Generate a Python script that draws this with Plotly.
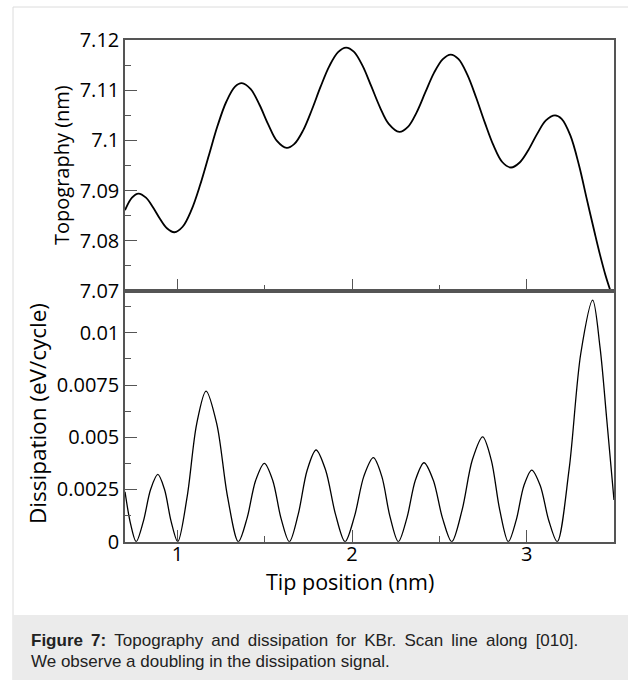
import plotly.graph_objects as go

# ---- data ----
topo_x = [0.700, 0.740, 0.777, 0.820, 0.860, 0.900, 0.940, 0.983,
          1.030, 1.080, 1.130, 1.180, 1.230, 1.280, 1.330, 1.369,
          1.420, 1.470, 1.520, 1.570, 1.626,
          1.670, 1.720, 1.770, 1.820, 1.870, 1.920, 1.966,
          2.010, 2.060, 2.110, 2.160, 2.210, 2.271,
          2.320, 2.370, 2.420, 2.470, 2.520, 2.565,
          2.610, 2.660, 2.710, 2.760, 2.810, 2.860, 2.910,
          2.960, 3.010, 3.060, 3.110, 3.162,
          3.200, 3.250, 3.300, 3.343, 3.390, 3.420, 3.450, 3.480, 3.500]
topo_y = [7.0861, 7.0886, 7.0894, 7.0886, 7.0867, 7.0844, 7.0825, 7.0817,
          7.0828, 7.0861, 7.0911, 7.0970, 7.1029, 7.1077, 7.1107, 7.1114,
          7.1102, 7.1071, 7.1032, 7.0999, 7.0985,
          7.0993, 7.1020, 7.1061, 7.1107, 7.1148, 7.1176, 7.1185,
          7.1177, 7.1149, 7.1108, 7.1066, 7.1033, 7.1017,
          7.1027, 7.1056, 7.1096, 7.1135, 7.1162, 7.1171,
          7.1162, 7.1131, 7.1086, 7.1036, 7.0990, 7.0957, 7.0946,
          7.0956, 7.0981, 7.1013, 7.1040, 7.1050,
          7.1043, 7.1010, 7.0950, 7.0885, 7.0815, 7.0772, 7.0733, 7.0700, 7.0680]

diss_x = [0.700, 0.732, 0.764,
          0.805, 0.847, 0.888, 0.926, 0.964, 1.002,
          1.056, 1.110, 1.164, 1.226, 1.287, 1.349,
          1.399, 1.448, 1.498, 1.546, 1.593, 1.641,
          1.692, 1.743, 1.794, 1.849, 1.905, 1.960,
          2.014, 2.068, 2.122, 2.170, 2.217, 2.265,
          2.314, 2.363, 2.412, 2.465, 2.518, 2.571,
          2.630, 2.689, 2.748, 2.797, 2.846, 2.895,
          2.940, 2.984, 3.029, 3.078, 3.126, 3.175,
          3.243, 3.310, 3.378, 3.420, 3.458, 3.500]
diss_y = [0.00239, 0.00085, 0.0,
          0.00097, 0.00251, 0.00322, 0.00251, 0.00097, 0.0,
          0.00216, 0.00562, 0.00721, 0.00562, 0.00216, 0.0,
          0.00113, 0.00293, 0.00375, 0.00293, 0.00113, 0.0,
          0.00132, 0.00342, 0.00439, 0.00342, 0.00132, 0.0,
          0.00121, 0.00314, 0.00402, 0.00314, 0.00121, 0.0,
          0.00113, 0.00295, 0.00378, 0.00295, 0.00113, 0.0,
          0.00151, 0.00392, 0.00502, 0.00392, 0.00151, 0.0,
          0.00103, 0.00268, 0.00343, 0.00268, 0.00103, 0.0,
          0.00347, 0.00902, 0.01156, 0.00930, 0.00590, 0.00200]

x_ticks = [1, 2, 3]
x_minor = [1.5, 2.5]
topo_ticks = [7.07, 7.08, 7.09, 7.10, 7.11, 7.12]
topo_labels = ["7.07", "7.08", "7.09", "7.1", "7.11", "7.12"]
topo_minor = [7.075, 7.085, 7.095, 7.105, 7.115]
diss_ticks = [0, 0.0025, 0.005, 0.0075, 0.01]
diss_labels = ["0", "0.0025", "0.005", "0.0075", "0.01"]
diss_minor = [0.00125, 0.00375, 0.00625, 0.00875, 0.01125]

caption1_words = ["<b>Figure", "7:</b>", "Topography", "and", "dissipation", "for",
                  "KBr.", "Scan", "line", "along", "[010]."]
caption2 = "We observe a doubling in the dissipation signal."

# ---- layout ----
W, H = 628, 680
def fx(p): return p / W
def fy(p): return 1 - p / H

LEFT, RIGHT, TOP, MID, BOT = 125, 614, 40, 291, 541.7
AX = "#555555"
FONT = "Open Sans"

fig = go.Figure()
fig.add_trace(go.Scatter(x=topo_x, y=topo_y, mode="lines", xaxis="x", yaxis="y",
                         line=dict(color="black", width=1.8, shape="spline", smoothing=1.0),
                         showlegend=False, hoverinfo="skip"))
fig.add_trace(go.Scatter(x=diss_x, y=diss_y, mode="lines", xaxis="x2", yaxis="y2",
                         line=dict(color="black", width=1.3, shape="spline", smoothing=0.9),
                         showlegend=False, hoverinfo="skip"))

common = dict(showline=True, linecolor=AX, linewidth=1.5, mirror=True,
              ticks="inside", ticklen=12, tickwidth=1.3, tickcolor=AX,
              showgrid=False, zeroline=False, automargin=False,
              tickfont=dict(family=FONT, size=20, color="black"))

def minor(vals):
    return dict(tickmode="array", tickvals=vals, ticks="inside", ticklen=6,
                tickwidth=1.3, tickcolor=AX, showgrid=False)

# justified first caption line (the reference paragraph is justified)
caption1 = " \u2009".join(caption1_words)

fig.update_layout(
    template="none",
    width=W, height=H, margin=dict(l=0, r=0, t=0, b=0, pad=0), autosize=False,
    paper_bgcolor="white", plot_bgcolor="white",
    xaxis=dict(domain=[fx(LEFT), fx(RIGHT)], anchor="y", range=[0.7, 3.5],
               tickmode="array", tickvals=x_ticks, showticklabels=False,
               minor=minor(x_minor), **common),
    yaxis=dict(domain=[fy(MID), fy(TOP)], anchor="x", range=[7.07, 7.12],
               tickmode="array", tickvals=topo_ticks, ticktext=topo_labels,
               minor=minor(topo_minor), **common),
    xaxis2=dict(domain=[fx(LEFT), fx(RIGHT)], anchor="y2", range=[0.7, 3.5],
                tickmode="array", tickvals=x_ticks, ticktext=[str(v) for v in x_ticks],
                ticklabelstandoff=-6,
                minor=minor(x_minor), **common),
    yaxis2=dict(domain=[fy(BOT), fy(MID)], anchor="x2", range=[0, 0.012],
                tickmode="array", tickvals=diss_ticks, ticktext=diss_labels,
                minor=minor(diss_minor), **common),
    shapes=[
        dict(type="rect", xref="paper", yref="paper", x0=fx(13), x1=1.02, y0=-0.02, y1=fy(7),
             line=dict(color="#dcdcdc", width=1), fillcolor="rgba(0,0,0,0)", layer="below"),
        dict(type="rect", xref="paper", yref="paper", x0=fx(13), x1=1.0, y0=0, y1=fy(615),
             line=dict(width=0), fillcolor="#ebebeb", layer="below"),
    ],
    annotations=[
        dict(text="Topography (nm)", x=fx(61), y=fy(165), xref="paper", yref="paper",
             textangle=-90, showarrow=False, xanchor="center", yanchor="middle",
             font=dict(family=FONT, size=20, color="black")),
        dict(text="Dissipation (eV/cycle)", x=fx(38), y=fy(414), xref="paper", yref="paper",
             textangle=-90, showarrow=False, xanchor="center", yanchor="middle",
             font=dict(family=FONT, size=22.5, color="black")),
        dict(text="Tip position (nm)", x=fx(350), y=fy(581), xref="paper", yref="paper",
             showarrow=False, xanchor="center", yanchor="middle",
             font=dict(family=FONT, size=21.5, color="black")),
        dict(text=caption1, x=fx(29), y=fy(640), xref="paper", yref="paper",
             showarrow=False, xanchor="left", yanchor="middle", align="left",
             font=dict(family="Liberation Sans", size=17, color="#222222")),
        dict(text=caption2, x=fx(29), y=fy(661), xref="paper", yref="paper",
             showarrow=False, xanchor="left", yanchor="middle", align="left",
             font=dict(family="Liberation Sans", size=17, color="#222222")),
    ],
)

fig.write_html("out.html")
